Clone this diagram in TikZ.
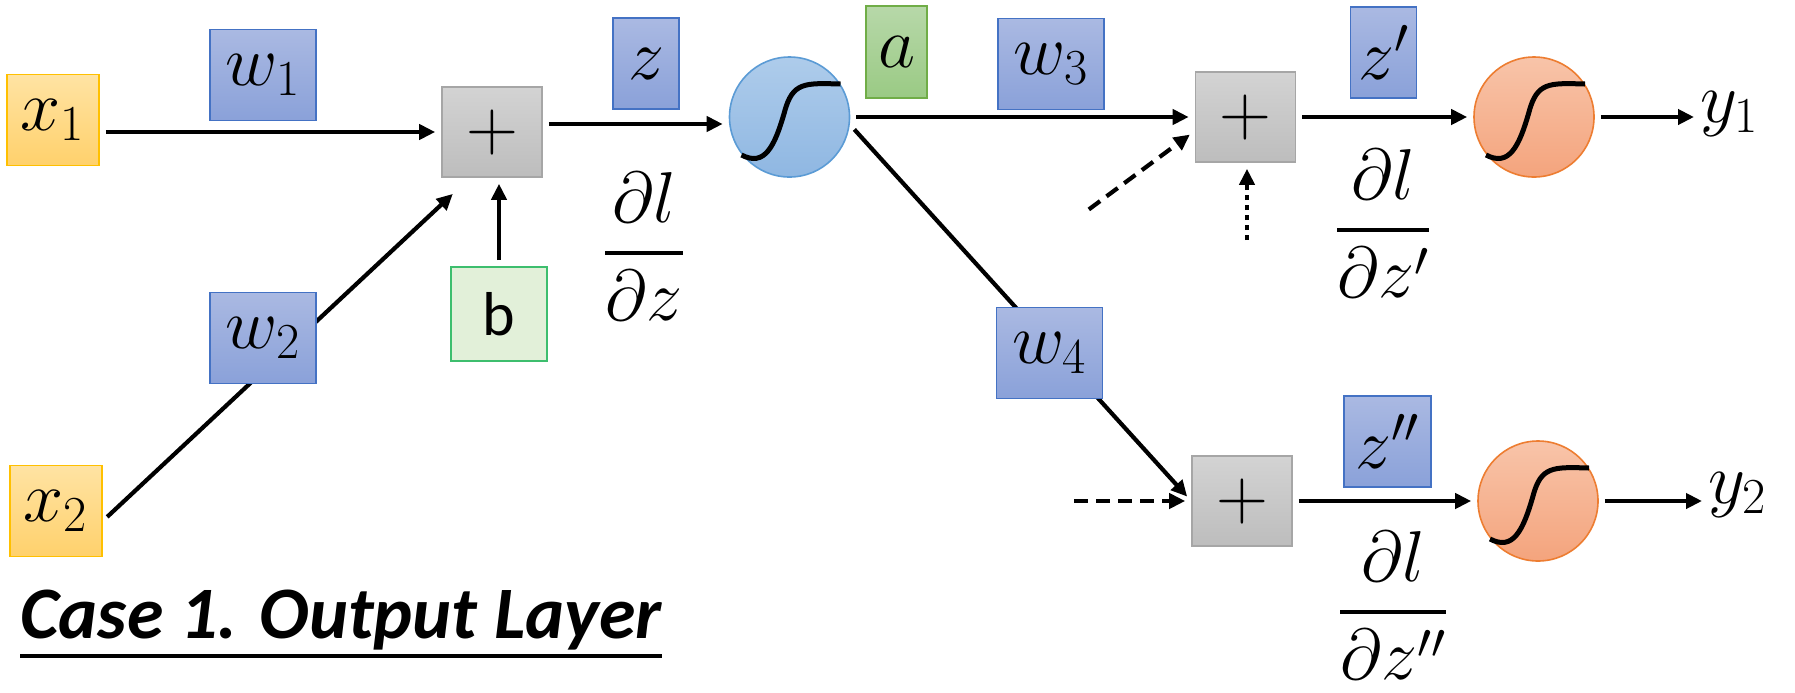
\RequirePackage{fix-cm}
\documentclass[tikz,border=0pt]{standalone}
\usepackage{amsmath}
\usepackage{fontspec}
\newfontfamily\calibrifont{Carlito}
\usepackage{tikz}
\usetikzlibrary{positioning,arrows.meta,calc}

\definecolor{inTop}{HTML}{FFE3A3}
\definecolor{inBot}{HTML}{FFD16C}
\definecolor{inLine}{HTML}{FFC000}
\definecolor{wTop}{HTML}{AAB9E2}
\definecolor{wBot}{HTML}{8AA1D9}
\definecolor{wLine}{HTML}{4472C4}
\definecolor{sumTop}{HTML}{D3D3D3}
\definecolor{sumBot}{HTML}{BDBDBD}
\definecolor{sumLine}{HTML}{A6A6A6}
\definecolor{bFill}{HTML}{E2F0D9}
\definecolor{bLine}{HTML}{3DBE6E}
\definecolor{aTop}{HTML}{B7D8A9}
\definecolor{aBot}{HTML}{9ACA84}
\definecolor{aLine}{HTML}{70AD47}
\definecolor{hidTop}{HTML}{AECCEB}
\definecolor{hidBot}{HTML}{8FB7E2}
\definecolor{hidLine}{HTML}{5B9BD5}
\definecolor{outTop}{HTML}{F8C4A9}
\definecolor{outBot}{HTML}{F4A47D}
\definecolor{outLine}{HTML}{ED7D31}

\begin{document}
\begin{tikzpicture}[
  x=0.5pt, y=-0.5pt,
  every node/.style={font=\fontsize{36}{40}\selectfont},
  cell/.style={
    rectangle, draw, line width=0.8pt, inner sep=0pt
  },
  inbox/.style={cell, top color=inTop, bottom color=inBot, draw=inLine,
    minimum width=46pt, minimum height=45.5pt},
  wbox/.style={cell, top color=wTop, bottom color=wBot, draw=wLine,
    minimum width=53pt, minimum height=45.5pt},
  zbox/.style={wbox, minimum width=33pt},
  sumbox/.style={cell, top color=sumTop, bottom color=sumBot, draw=sumLine,
    minimum width=50pt, minimum height=45pt},
  biasbox/.style={cell, fill=bFill, draw=bLine,
    minimum width=48pt, minimum height=47pt,
    font=\calibrifont\fontsize{31}{36}\selectfont},
  actbox/.style={cell, top color=aTop, bottom color=aBot, draw=aLine,
    minimum width=30.5pt, minimum height=46pt},
  hidden/.style={circle, draw=hidLine, line width=0.8pt,
    top color=hidTop, bottom color=hidBot, minimum size=60pt, inner sep=0pt},
  output/.style={hidden, draw=outLine, top color=outTop, bottom color=outBot},
  grad/.style={anchor=base, inner sep=0pt},
  arr/.style={-{Triangle[length=8pt,width=7.5pt]}, line width=2.1pt,
    shorten <=3pt, shorten >=3pt},
  feed/.style={arr, dash pattern=on 7pt off 4pt},
  biasin/.style={arr, dash pattern=on 2.5pt off 2.5pt},
  title/.style={font=\calibrifont\bfseries\itshape\fontsize{37}{44}\selectfont,
    inner sep=0pt},
  sigmoid/.pic={
    \draw[line width=2.5pt] (-48,38) .. controls (-25,50) and (-15,30) .. (-5,-5)
      .. controls (3,-35) and (15,-34) .. (51,-33);
  }
]
\useasboundingbox (0,0) rectangle (1795,692);

% Inputs and first sum
\node[inbox] (x1) at (53,120) {$x_1$};
\node[inbox] (x2) at (56,511) {$x_2$};
\node[wbox] (w1) at (263,75) {$w_1$};
\node[sumbox] (sum1) at (492,132) {$+$};
\node[biasbox] (b) at (499,314) {b};

\draw[arr] (x1.east |- sum1.west) -- (sum1.west);
\draw[arr] ([yshift=-5pt]x2.east) -- ([shift={(8pt,-6pt)}]sum1.south west);
\draw[arr] (b.north) -- (b.north |- sum1.south);
\node[wbox] (w2) at (263,338) {$w_2$};

% Hidden unit
\node[hidden] (sig1) at (789.5,117) {};
\pic at (sig1.center) {sigmoid};
\node[zbox] (z) at (646,63.5) {$z$};
\node[grad] (dz) at (644,271) {$\genfrac{}{}{2pt}{0}{\partial l}{\partial z}$};
\node[actbox] (a) at (896.5,52) {$a$};
\draw[arr] ([yshift=4pt]sum1.east) -- ([yshift=4pt]sum1.east -| sig1.west);

% Output layer
\node[sumbox] (sum2) at (1245.5,117) {$+$};
\node[sumbox] (sum3) at (1242,501) {$+$};
\node[wbox] (w3) at (1051,64) {$w_3$};
\draw[arr] (sig1.east) -- (sum2.west);
\draw[arr] ([yshift=-4pt]sig1.east) -- (sum3.west);
\node[wbox] (w4) at (1049.5,353) {$w_4$};

\coordinate (d2) at (1084,213);
\coordinate (d2b) at (1247,246);
\coordinate (d3) at (1068,501);
\draw[feed] (d2) -- ([yshift=-7pt]sum2.west);
\draw[biasin] (d2b) -- (d2b |- sum2.south);
\draw[feed] (d3) -- (sum3.west);

\node[output] (sig2) at (1534,117) {};
\pic at (sig2.center) {sigmoid};
\node[output] (sig3) at (1538,501) {};
\pic at (sig3.center) {sigmoid};

\node[zbox] (z1) at (1383.5,52.5) {$z'$};
\node[zbox, minimum width=43.5pt] (z2) at (1387.5,441.5) {$z''$};
\node[grad] (dz1) at (1383,248) {$\genfrac{}{}{2pt}{0}{\partial l}{\partial z'}$};
\node[grad] (dz2) at (1393,630) {$\genfrac{}{}{2pt}{0}{\partial l}{\partial z''}$};

\draw[arr] (sum2.east) -- (sig2.west);
\draw[arr] (sum3.east) -- (sig3.west);

\node[anchor=base west, inner sep=0pt] (y1) at (1700,122) {$y_1$};
\node[anchor=base west, inner sep=0pt] (y2) at (1708,503) {$y_2$};
\draw[arr] (sig2.east) -- (sig2.east -| y1.west);
\draw[arr] (sig3.east) -- (sig3.east -| y2.west);

% Caption
\node[title, anchor=base west] (title) at (20,638) {Case 1. Output Layer};
\draw[line width=1.6pt] ([yshift=-9pt]title.base west) -- ([yshift=-9pt]title.base east);
\end{tikzpicture}
\end{document}
